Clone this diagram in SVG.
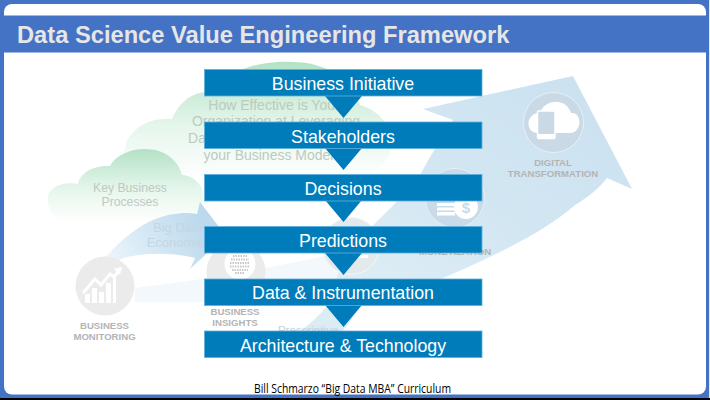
<svg xmlns="http://www.w3.org/2000/svg" width="710" height="400" viewBox="0 0 710 400">
<style>
text{font-family:"Liberation Sans",Arial,sans-serif}
.box{fill:#007cba;stroke:#5fb0dc;stroke-width:.8}
.lbl{fill:#fff;font-size:17.8px;text-anchor:middle}
.tri{fill:#007cba}
.cap{fill:#b4b4b4;font-size:9.6px;font-weight:bold;text-anchor:middle}
.grn{fill:#bccabf;text-anchor:middle}
.blu{fill:#c4d6e4;font-size:13px;text-anchor:middle}
</style>
<defs>
<linearGradient id="gc" x1="0" y1="0" x2="0" y2="1"><stop offset="0" stop-color="#b3e2c5"/><stop offset=".55" stop-color="#e6f6ec"/><stop offset="1" stop-color="#fff"/></linearGradient>
<linearGradient id="ga" gradientUnits="userSpaceOnUse" x1="85" y1="295" x2="205" y2="225"><stop offset="0" stop-color="#fff"/><stop offset=".55" stop-color="#d8eaf5"/><stop offset="1" stop-color="#bcd9ed"/></linearGradient>
<linearGradient id="gb" gradientUnits="userSpaceOnUse" x1="400" y1="290" x2="560" y2="90"><stop offset="0" stop-color="#dcecf5"/><stop offset=".5" stop-color="#d2e6f2"/><stop offset="1" stop-color="#cde2f1"/></linearGradient>
</defs>
<rect width="710" height="400" fill="#000"/>
<rect x="0" y="0" width="709" height="398" fill="#4472c4"/>
<rect x="709" y="0" width="1" height="398" fill="#dfe6f2"/>
<rect x="4" y="4" width="702" height="390.500" rx="8" fill="#fff"/>
<rect x="4" y="15.500" width="702" height="37" fill="#4472c4"/>
<rect x="4" y="52" width="702" height=".8" fill="#9db5e0"/>
<text x="17" y="43" font-size="23.700" font-weight="bold" fill="#e7e6e6">Data Science Value Engineering Framework</text>

<g id="cloud-value">
<path d="M125,160 C120,135 145,116 172,119 C180,100 195,90 215,92 C228,68 265,60 293,62 C325,62 355,80 360,105 C385,112 396,135 390,152 C385,170 360,180 340,180 L150,180 C132,178 127,170 125,160Z" fill="url(#gc)"/>
</g>
<g id="cloud-processes">
<path d="M48,201 C46,188 62,181 78,184 C80,172 95,165 110,166 C116,155 130,149 145,149 C165,149 178,160 182,175 C195,176 204,186 203,198 C203,212 190,222 170,222 L70,222 C55,220 49,212 48,201Z" fill="url(#gc)"/>
</g>

<path d="M135,288 C220,278 300,262 350,250 L352,300 C280,303 200,302 135,302Z" fill="#f2f8fb"/>
<path d="M573,76 L423,109 L453,120 C440,140 428,160 420,175 C405,195 385,214 345,252 L328,305 C320,315 310,324 300,331 L342,331 L348,325 L360,305 L443,278 C490,258 545,232 575,205 C590,196 600,187 607,178 L632,189Z" fill="url(#gb)"/>
<path d="M73,302 C95,265 125,232 153,220 C170,213 185,212 197,214 L200,202 L226,236 L190,269 L195,258 C175,253 150,252 127,257 C105,263 90,285 73,302Z" fill="url(#ga)"/>

<text class="grn" font-size="14"><tspan x="274" y="110">How Effective is Your</tspan><tspan x="276" y="126">Organization at Leveraging</tspan><tspan x="197" y="143">Da</tspan><tspan x="272" y="160">your Business Models</tspan></text>
<text class="grn" font-size="12.200"><tspan x="130" y="192">Key Business</tspan><tspan x="130" y="206">Processes</tspan></text>
<g id="label-economics"><text class="blu"><tspan x="178" y="232">Big Data</tspan><tspan x="178.500" y="247">Economics</tspan></text></g>

<g id="business-monitoring">
<circle cx="105" cy="286" r="29.500" fill="#ebebeb"/>
<path d="M85,303 V294 H90 V303Z M92,303 V288 H97 V303Z M99,303 V292 H104 V303Z M106,303 V283 H111 V303Z M113,303 V276 H116 V303Z" fill="#fff"/>
<path d="M83,293 L95,279 L101,285 L110,274 L114,277 L121,268" fill="none" stroke="#fff" stroke-width="3"/>
<path d="M114,269 L122,267 L120,275Z" fill="#fff"/>
<text class="cap"><tspan x="104.500" y="329">BUSINESS</tspan><tspan x="104.500" y="340">MONITORING</tspan></text>
</g>
<g id="business-insights">
<circle cx="236" cy="272" r="29.500" fill="#ebebeb"/>
<circle cx="240" cy="264" r="15.500" fill="#fff"/>
<path d="M233,256 h14 M231,259.500 h18 M230,263 h20 M230,266.500 h20 M232,270 h16 M235,273 h10" fill="none" stroke="#c8c8c8" stroke-width="2" stroke-dasharray="1.500 1"/>
<text class="cap"><tspan x="235" y="315">BUSINESS</tspan><tspan x="235" y="326">INSIGHTS</tspan></text>
</g>
<g id="predictive-circle">
<circle cx="351" cy="246" r="28.500" fill="#e4e9ec" stroke="#f4f7f9" stroke-width="1"/>
<path d="M358,255 h10 v3 h-10Z" fill="#fff"/>
<text x="308" y="334" text-anchor="middle" font-size="11.500" fill="#c4d2dc">Prescriptive</text>
</g>
<g id="monetization">
<circle cx="455" cy="198" r="29.500" fill="#c9dbe8" stroke="#e6eff5" stroke-width="1"/>
<path d="M437,203 h18 v3 h-18Z M437,207.500 h18 v3 h-18Z M437,212 h18 v3.500 h-18Z" fill="#fff"/>
<circle cx="466" cy="207" r="12" fill="#fff"/>
<text x="466" y="212.500" text-anchor="middle" font-size="15" font-weight="bold" fill="#c9dbe8">$</text>
<text class="cap" x="455" y="255">MONETIZATION</text>
</g>
<g id="digital-transformation">
<circle cx="553.500" cy="122.500" r="30" fill="#c9d9e6" stroke="#e8f0f6" stroke-width="1"/>
<path d="M538,133 C525,133 525,113 540,113 C544,99 566,97 571,113 C583,112 582,133 570,133Z" fill="#fff"/>
<rect x="537.500" y="111" width="17.500" height="27.500" rx="1.500" fill="#c9d9e6" stroke="#fff" stroke-width="1.500"/>
<rect x="537.500" y="134" width="17.500" height="4.500" fill="#fff"/>
<text class="cap"><tspan x="553" y="166">DIGITAL</tspan><tspan x="553" y="177">TRANSFORMATION</tspan></text>
</g>

<g id="connectors">
<path class="tri" d="M325,96 H362 L343.500,118Z M325,148 H362 L343.500,170Z M325,200 H362 L343.500,222Z M325,253 H362 L343.500,275Z M325,305 H362 L343.500,327Z"/>
</g>
<g id="business-initiative"><rect class="box" x="204.500" y="69.500" width="277.500" height="26.500"/><text class="lbl" x="343" y="90">Business Initiative</text></g>
<g id="stakeholders"><rect class="box" x="204.500" y="122" width="277.500" height="26.500"/><text class="lbl" x="343" y="142.500">Stakeholders</text></g>
<g id="decisions"><rect class="box" x="204.500" y="174.500" width="277.500" height="26.500"/><text class="lbl" x="343" y="194.500">Decisions</text></g>
<g id="predictions"><rect class="box" x="204.500" y="226.500" width="277.500" height="26.500"/><text class="lbl" x="343" y="246.500">Predictions</text></g>
<g id="data-instrumentation"><rect class="box" x="204.500" y="279" width="277.500" height="26.500"/><text class="lbl" x="343" y="299">Data &amp; Instrumentation</text></g>
<g id="architecture-technology"><rect class="box" x="204.500" y="331" width="277.500" height="26.500"/><text class="lbl" x="343" y="351.500">Architecture &amp; Technology</text></g>
<text x="254" y="392.500" font-size="12" textLength="197" lengthAdjust="spacingAndGlyphs" style="font-family:'Open Sans',sans-serif" fill="#000">Bill Schmarzo “Big Data MBA” Curriculum</text>
</svg>
